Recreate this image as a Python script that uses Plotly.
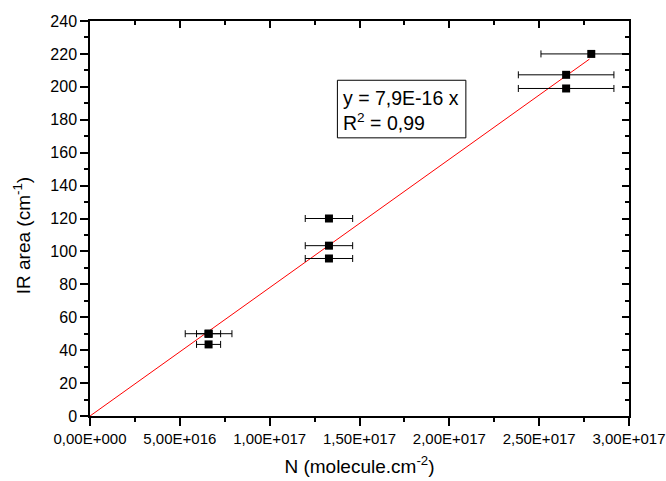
import plotly.graph_objects as go

# Data
n_values = [6.6e16, 6.6e16, 6.6e16, 1.33e17, 1.33e17, 1.33e17, 2.65e17, 2.65e17, 2.79e17]
ir_area = [50, 50, 43.5, 120, 103.5, 95.7, 207.3, 199, 220]
n_errors = [1.3e16, 0.67e16, 0.67e16, 1.32e16, 1.32e16, 1.32e16, 2.66e16, 2.66e16, 2.8e16]

fit_slope = 7.8e-16
fit_x = [0, 2.78e17]
fit_y = [fit_slope * v for v in fit_x]

x_tickvals = [0, 5e16, 1e17, 1.5e17, 2e17, 2.5e17, 3e17]
x_ticktext = ["0,00E+000", "5,00E+016", "1,00E+017", "1,50E+017",
              "2,00E+017", "2,50E+017", "3,00E+017"]
y_tickvals = list(range(0, 241, 20))

x_title = "N (molecule.cm<sup>-2</sup>)"
y_title = "IR area (cm<sup>-1</sup>)"
eq_line1 = "y = 7,9E-16 x"
eq_line2 = "R<sup>2</sup> = 0,99"

FONT = "Arial, Liberation Sans, sans-serif"

fig = go.Figure()

fig.add_trace(go.Scatter(
    x=fit_x, y=fit_y, mode="lines",
    line=dict(color="red", width=1),
    showlegend=False, hoverinfo="skip"))

fig.add_trace(go.Scatter(
    x=n_values, y=ir_area, mode="markers",
    marker=dict(symbol="square", size=8, color="black"),
    error_x=dict(type="data", array=n_errors, color="black",
                 thickness=1, width=3.5),
    showlegend=False))

# dummy trace for the mirrored (top/right) axes
fig.add_trace(go.Scatter(
    x=[0], y=[0], xaxis="x2", yaxis="y2", mode="markers",
    marker=dict(opacity=0), showlegend=False, hoverinfo="skip"))

axis_common = dict(showgrid=False, zeroline=False, showline=True,
                   linecolor="black", linewidth=1.5, tickcolor="black",
                   tickwidth=1.5, automargin=False)

fig.update_layout(
    width=666, height=481,
    margin=dict(l=90, r=37, t=21, b=65),
    paper_bgcolor="white", plot_bgcolor="white",
    font=dict(family=FONT, color="black"),
    xaxis=dict(
        range=[0, 3e17], tickvals=x_tickvals, ticktext=x_ticktext,
        ticks="outside", ticklen=8,
        minor=dict(ticks="outside", ticklen=4, dtick=2.5e16,
                   tickcolor="black", tickwidth=1.5),
        tickfont=dict(size=15, family=FONT),
        title=dict(text=x_title,
                   font=dict(size=19, family=FONT), standoff=14),
        **axis_common),
    yaxis=dict(
        range=[0, 240], tickvals=y_tickvals,
        ticks="outside", ticklen=8, ticksuffix="\u2002",
        minor=dict(ticks="outside", ticklen=4, dtick=10,
                   tickcolor="black", tickwidth=1.5),
        tickfont=dict(size=16, family=FONT),
        **axis_common),
    xaxis2=dict(
        range=[0, 3e17], overlaying="x", side="top", anchor="y",
        tickvals=x_tickvals, ticks="inside", ticklen=7,
        showticklabels=False,
        minor=dict(ticks="inside", ticklen=4, dtick=2.5e16,
                   tickcolor="black", tickwidth=1.5),
        **axis_common),
    yaxis2=dict(
        range=[0, 240], overlaying="y", side="right", anchor="x",
        tickvals=y_tickvals, ticks="inside", ticklen=7,
        showticklabels=False,
        minor=dict(ticks="inside", ticklen=4, dtick=10,
                   tickcolor="black", tickwidth=1.5),
        **axis_common),
)

# Y axis title (placed to match the reference's offset)
fig.add_annotation(x=0, y=0.455, xref="paper", yref="paper", xshift=-68,
                   text=y_title, textangle=-90, showarrow=False,
                   xanchor="center", yanchor="middle",
                   font=dict(size=19, family=FONT))

# Equation box
fig.add_shape(type="rect", xref="x", yref="y",
              x0=1.377e17, x1=2.092e17, y0=169, y1=204,
              line=dict(color="black", width=1), fillcolor="white",
              layer="above")
fig.add_annotation(x=1.395e17, y=193.2, xref="x", yref="y", text=eq_line1,
                   showarrow=False, xanchor="left", yanchor="middle",
                   font=dict(size=19.5, family=FONT))
fig.add_annotation(x=1.395e17, y=178.5, xref="x", yref="y", text=eq_line2,
                   showarrow=False, xanchor="left", yanchor="middle",
                   font=dict(size=19.5, family=FONT))

fig.write_html("out.html")
